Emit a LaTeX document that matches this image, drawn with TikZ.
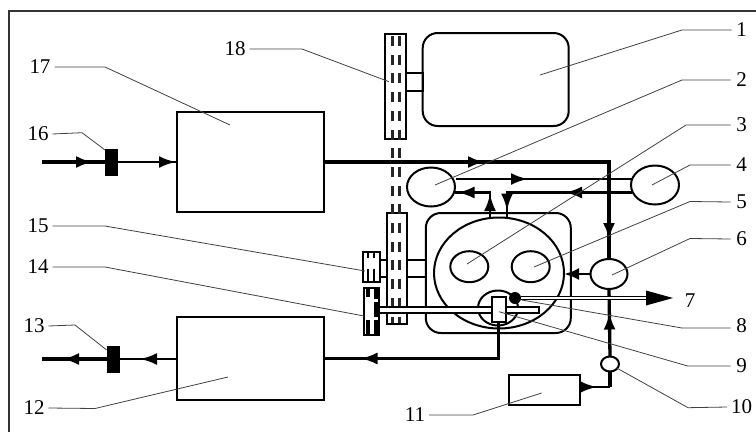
\documentclass[tikz,border=0pt]{standalone}
\usepackage{fontspec}
\setmainfont{Liberation Serif}
\usetikzlibrary{arrows.meta,decorations.markings,shapes.geometric}
\tikzset{
    part/.style={draw=black,line width=2pt,inner sep=0pt,outer sep=0pt},
    boxpart/.style={part,rectangle},
    roundpart/.style={part,rectangle,rounded corners=15pt},
    ellpart/.style={part,ellipse},
    valve/.style={rectangle,fill=black,inner sep=0pt,outer sep=0pt,minimum width=13pt,minimum height=27pt},
    pipe/.style={line width=2.7pt,line join=miter},
    heavypipe/.style={line width=3.3pt,line join=miter},
    belt/.style={line width=3pt,black!85,dash pattern=on 10pt off 8.7pt},
    leader/.style={black!75,line width=0.8pt},
    numlabel/.style={font=\fontsize{21}{21}\selectfont,inner sep=4pt,outer sep=0pt},
    flowtip/.style={postaction={decorate,decoration={markings,
        mark=at position #1 with {\arrow{Latex[length=17pt,width=12pt]}}}}},
}
\begin{document}
\begin{tikzpicture}[x=1pt,y=-1pt]
    \useasboundingbox (0,0) rectangle (756,432);
    \draw[black!80,line width=2.6pt] (9,432) -- (9,11) -- (756,11);

    % Motor, tanks and the main parts.
    \node[roundpart,minimum width=146pt,minimum height=93pt] (motor) at (495.7,79.5) {};
    \node[boxpart,minimum width=147pt,minimum height=100pt] (box17) at (250.5,162) {};
    \node[boxpart,minimum width=147pt,minimum height=83pt] (box12) at (250.5,358.5) {};
    \node[boxpart,minimum width=71pt,minimum height=30pt] (box11) at (544.5,390) {};
    \node[roundpart,minimum width=145pt,minimum height=120pt] (engine) at (498.3,273) {};
    \node[ellpart,minimum width=130pt,minimum height=111pt] (rotor) at (499,273) {};
    \node[ellpart,minimum width=38pt,minimum height=31pt] (cyl3) at (469.3,266.7) {};
    \node[ellpart,minimum width=38pt,minimum height=31pt] (cyl5) at (530.7,266.7) {};
    \node[ellpart,minimum width=48pt,minimum height=39pt] (pump2) at (431,187) {};
    \node[ellpart,minimum width=48pt,minimum height=39pt] (pump4) at (655,185) {};
    \node[ellpart,minimum width=37pt,minimum height=30pt] (pump6) at (609,274) {};
    \node[ellpart,minimum width=18pt,minimum height=15pt] (pump10) at (610,364) {};

    % Free ends of the pipes.
    \coordinate (inlet) at (42,162);
    \coordinate (outlet) at (42,359);
    \coordinate (out2) at (456,179);
    \coordinate (in4) at (632,179);
    \coordinate (ret4) at (632,192.5);
    \coordinate (ret2) at (455,192.5);
    \coordinate (port2) at (490,218);
    \coordinate (port4) at (507,218);
    \coordinate (bend11) at (610,387);
    \coordinate (tip7) at (673,298);

    % Pipes.
    \node[valve] (valve16) at (111.5,162) {};
    \node[valve] (valve13) at (113.5,359) {};
    \draw[heavypipe,flowtip=51pt] (inlet) -- (valve16);
    \draw[pipe,flowtip=58pt] (valve16) -- (box17.west);
    \draw[heavypipe,flowtip=45pt] (valve13) -- (outlet);
    \draw[pipe,flowtip=37pt] (box12.west |- valve13) -- (valve13);
    \draw[heavypipe,flowtip=161pt,flowtip=363pt] (box17.east) -| (pump6.north);
    \draw[pipe,flowtip=72pt] (out2) -- (in4);
    \draw[pipe,flowtip=67pt,flowtip=143pt] (ret4) -- (ret4 -| port4) -- (port4);
    \draw[pipe,flowtip=24pt,flowtip=58pt] (port2) -- (port2 |- ret2) -- (ret2);
    \draw[pipe,-{Latex[length=15pt,width=12pt]}] (pump6.west) -- (rotor.east |- pump6.west);
    \draw[heavypipe,flowtip=44pt] (pump10.north) -- (pump6.south);
    \draw[heavypipe] (pump10.south) -- (bend11);
    \draw[pipe,flowtip=17pt] (box11.east |- bend11) -- (bend11);

    % Gears and the belt between them.
    \node[boxpart,minimum width=21pt,minimum height=105pt] (gear18) at (395.5,86.5) {};
    \node[boxpart,minimum width=20pt,minimum height=111pt] (gear) at (396.7,268.5) {};
    \draw[belt] (392.5,36) -- (392.5,323);
    \draw[belt] (399.5,36) -- (399.5,323);
    \draw[part] (406,73) rectangle (422.7,90.7);
    \draw[part] (406.7,260) rectangle (426,276.7);
    \draw[part,fill=white] (380,260) rectangle (386.7,276.7);
    \node[boxpart,fill=white,minimum width=17pt,minimum height=30pt] (gear15) at (371,266.7) {};
    \draw[line width=2.6pt,dash pattern=on 6pt off 11pt on 13pt]
        (368,251.7) -- (368,281.7) (374,251.7) -- (374,281.7);
    \node[boxpart,fill=white,minimum width=15pt,minimum height=47pt] (gear14) at (371.7,311.5) {};
    \draw[line width=4pt,dash pattern=on 9pt off 23pt on 15pt]
        (367.5,288) -- (367.5,335);
    \draw[line width=4pt,dash pattern=on 11pt off 3pt on 15pt off 3pt on 15pt]
        (375.5,288) -- (375.5,335);

    % Spray nozzle on the shaft.
    \node[ellpart,minimum width=40pt,minimum height=35pt] (seat) at (498,308) {};
    \draw[part,fill=white] (379,306.7) rectangle (539,313);
    \node[boxpart,fill=white,minimum width=14pt,minimum height=25pt] (nozzle) at (498.7,309.2) {};
    \node[circle,fill=black,inner sep=0pt,minimum size=12pt] (dot8) at (515,298) {};
    \draw[line width=1.1pt,double,double distance=2.2pt] (dot8) -- (647,298);
    \fill (646,290.5) -- (tip7) -- (646,305.5) -- cycle;
    \draw[pipe,flowtip=175pt] (nozzle.south) |- (box12.east);

    % Numbers and their leaders.
    \node[numlabel] (lab1) at (741.5,30) {1};
    \node[numlabel] (lab2) at (741.5,80) {2};
    \node[numlabel] (lab3) at (741.5,125) {3};
    \node[numlabel] (lab4) at (741.5,165) {4};
    \node[numlabel] (lab5) at (741.5,202) {5};
    \node[numlabel] (lab6) at (741.5,239) {6};
    \node[numlabel] (lab7) at (690,301) {7};
    \node[numlabel] (lab8) at (741.5,326) {8};
    \node[numlabel] (lab9) at (741.5,366) {9};
    \node[numlabel] (lab10) at (741.5,407) {10};
    \node[numlabel] (lab11) at (415,415) {11};
    \node[numlabel] (lab12) at (34,408) {12};
    \node[numlabel] (lab13) at (34,326) {13};
    \node[numlabel] (lab14) at (38,267) {14};
    \node[numlabel] (lab15) at (38,226) {15};
    \node[numlabel] (lab16) at (38,134) {16};
    \node[numlabel] (lab17) at (40,67) {17};
    \node[numlabel] (lab18) at (235,49) {18};

    \draw[leader] (lab1) ++(-10,0) -- (682,30) -- (540,75);
    \draw[leader] (lab2) ++(-11,0) -- (682,80) -- (435,185);
    \draw[leader] (lab3) ++(-11,0) -- (686,125) -- (467,264);
    \draw[leader] (lab4) ++(-11,0) -- (690,165) -- (652,185);
    \draw[leader] (lab5) ++(-11,0) -- (690,201.5) -- (534,267);
    \draw[leader] (lab6) ++(-11,0) -- (690,238.5) -- (612,275);
    \draw[leader] (lab8) ++(-11,2) -- (682,328) -- (521.7,300);
    \draw[leader] (lab9) ++(-11,0) -- (687.7,366) -- (499,311.7);
    \draw[leader] (lab10.west) -- (688,407.7) -- (616.7,368);
    \draw[leader] (lab11.east) -- (473,415) -- (541.7,393);
    \draw[leader] (lab12.east) -- (95,408.5) -- (228,377);
    \draw[leader] (lab13.east) -- (75,325) -- (106.7,350);
    \draw[leader] (lab14.east) -- (105,267) -- (364,316);
    \draw[leader] (lab15.east) -- (105,226) -- (365,271);
    \draw[leader] (lab16.east) -- (82,132.7) -- (105,150);
    \draw[leader] (lab17.east) -- (105,67) -- (230,125);
    \draw[leader] (lab18.east) -- (302,49) -- (389,81.7);
\end{tikzpicture}
\end{document}
